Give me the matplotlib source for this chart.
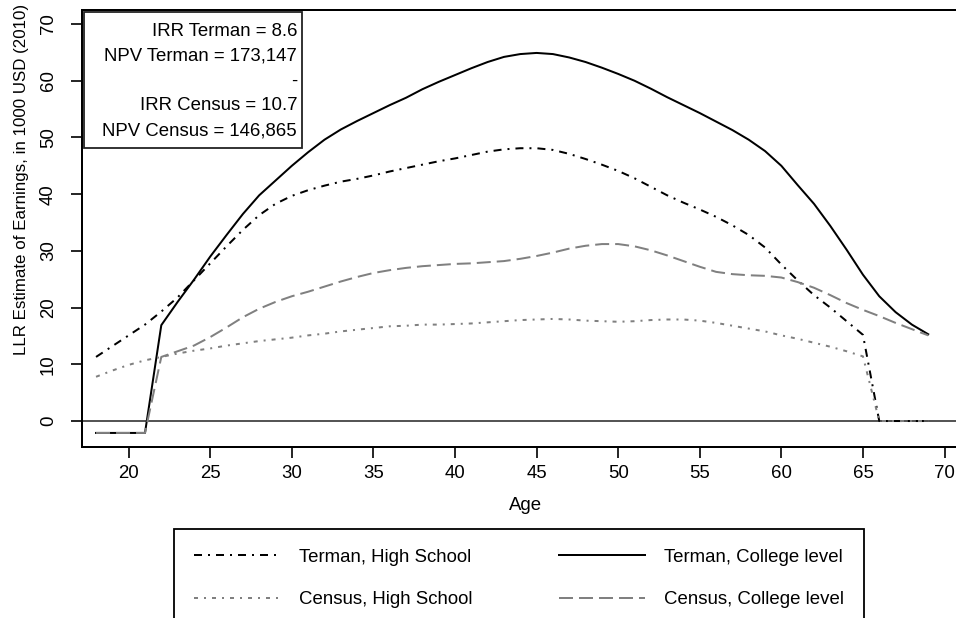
import numpy as np
import matplotlib.pyplot as plt
from matplotlib.patches import Rectangle

# ages and LLR earnings estimates (1000 USD, 2010)
age = np.arange(18, 70)

terman_hs = [11.3, 13.2, 15.1, 17.0, 19.3, 21.8, 24.8, 27.8, 30.8, 33.7,
             36.3, 38.3, 39.7, 40.7, 41.5, 42.2, 42.7, 43.3, 44.0, 44.6,
             45.2, 45.8, 46.3, 46.9, 47.5, 47.9, 48.1, 48.1, 47.8, 47.1,
             46.2, 45.2, 44.1, 42.8, 41.3, 39.8, 38.5, 37.3, 36.0, 34.5,
             32.8, 30.6, 27.6, 24.8, 22.2, 20.0, 17.6, 15.2, 0.0, 0.0,
             0.0, 0.0]

terman_col = [-2.1, -2.1, -2.1, -2.1, 16.9, 21.0, 24.9, 29.0, 32.8, 36.5,
              39.8, 42.4, 45.0, 47.4, 49.6, 51.4, 52.9, 54.3, 55.7, 57.0,
              58.5, 59.8, 61.0, 62.2, 63.3, 64.2, 64.7, 64.9, 64.7, 64.1,
              63.3, 62.3, 61.2, 60.0, 58.6, 57.1, 55.7, 54.3, 52.8, 51.3,
              49.6, 47.6, 45.0, 41.6, 38.3, 34.4, 30.2, 25.8, 22.0, 19.2,
              17.0, 15.3]

census_hs = [7.8, 8.9, 9.9, 10.7, 11.3, 11.9, 12.4, 12.8, 13.3, 13.7,
             14.1, 14.4, 14.7, 15.1, 15.4, 15.8, 16.1, 16.4, 16.7, 16.8,
             17.0, 17.0, 17.1, 17.2, 17.4, 17.6, 17.8, 17.9, 18.0, 17.9,
             17.7, 17.6, 17.5, 17.6, 17.8, 17.9, 17.9, 17.7, 17.3, 16.8,
             16.3, 15.8, 15.1, 14.5, 13.8, 13.1, 12.3, 11.4, 0.0, 0.0,
             0.0, 0.0]

census_col = [-2.1, -2.1, -2.1, -2.1, 11.3, 12.3, 13.3, 14.8, 16.5, 18.3,
              19.8, 21.0, 22.0, 22.8, 23.7, 24.6, 25.4, 26.1, 26.6, 27.0,
              27.3, 27.5, 27.7, 27.8, 28.0, 28.2, 28.6, 29.1, 29.7, 30.4,
              30.9, 31.2, 31.2, 30.8, 30.1, 29.2, 28.2, 27.2, 26.3, 25.9,
              25.7, 25.6, 25.3, 24.5, 23.5, 22.2, 20.8, 19.6, 18.5, 17.3,
              16.2, 15.1]

stats_lines = ["IRR Terman = 8.6", "NPV Terman = 173,147", "-",
               "IRR Census = 10.7", "NPV Census = 146,865"]

plt.rcParams['font.family'] = ['Liberation Sans', 'DejaVu Sans']
FS = 13.4
W, H = 956, 618

fig = plt.figure(figsize=(W / 100, H / 100), dpi=100)
ax = fig.add_axes([82 / W, 1 - 447 / H, (969 - 82) / W, (447 - 10) / H])

ax.axhline(0, color='#444444', lw=1.3, zorder=1)
l1, = ax.plot(age, terman_hs, color='black', lw=1.44, dashes=(4, 3, 1, 3),
              label='Terman, High School')
l2, = ax.plot(age, terman_col, color='black', lw=1.44,
              label='Terman, College level')
l3, = ax.plot(age, census_hs, color='#808080', lw=1.44, dashes=(2, 3, 1, 3),
              label='Census, High School')
l4, = ax.plot(age, census_col, color='#808080', lw=1.44, dashes=(7, 3),
              label='Census, College level')

ax.set_xlim(17.14, 71.5)
ax.set_ylim(-4.58, 72.47)
ax.set_xticks(range(20, 71, 5))
ax.set_yticks(range(0, 71, 10))
ax.tick_params(length=8, width=1.2, pad=5, labelsize=FS)
ax.tick_params(axis='y', labelrotation=90, pad=10)
for lab in ax.get_yticklabels():
    lab.set_va('center')
for s in ax.spines.values():
    s.set_linewidth(1.44)

ax.set_xlabel('Age', fontsize=FS, labelpad=11)
fig.text(22 / W, 1 - 179 / H, 'LLR Estimate of Earnings, in 1000 USD (2010)',
         rotation=90, ha='center', va='center', fontsize=12.2)

# IRR / NPV box in the top left corner
fig.add_artist(Rectangle((84 / W, 1 - 148 / H), (302 - 84) / W, (148 - 12) / H,
                         transform=fig.transFigure, facecolor='white',
                         edgecolor='#222222', lw=1.3, zorder=5))
for i, s in enumerate(stats_lines):
    fig.text(297 / W, 1 - (31 + 25 * i) / H, s, ha='right', va='center',
             fontsize=FS, zorder=6)

leg = fig.legend(handles=[l1, l3, l2, l4], loc='upper left', ncol=2,
                 bbox_to_anchor=(174 / W, 0, (864 - 174) / W, 1 - 529 / H),
                 mode='expand', borderaxespad=0, fontsize=FS, frameon=True,
                 fancybox=False, edgecolor='black', framealpha=1,
                 borderpad=1.05, handlelength=4.6, handletextpad=1.05,
                 labelspacing=1.38)
leg.get_frame().set_linewidth(1.3)

fig.savefig('out.png', dpi=100)
